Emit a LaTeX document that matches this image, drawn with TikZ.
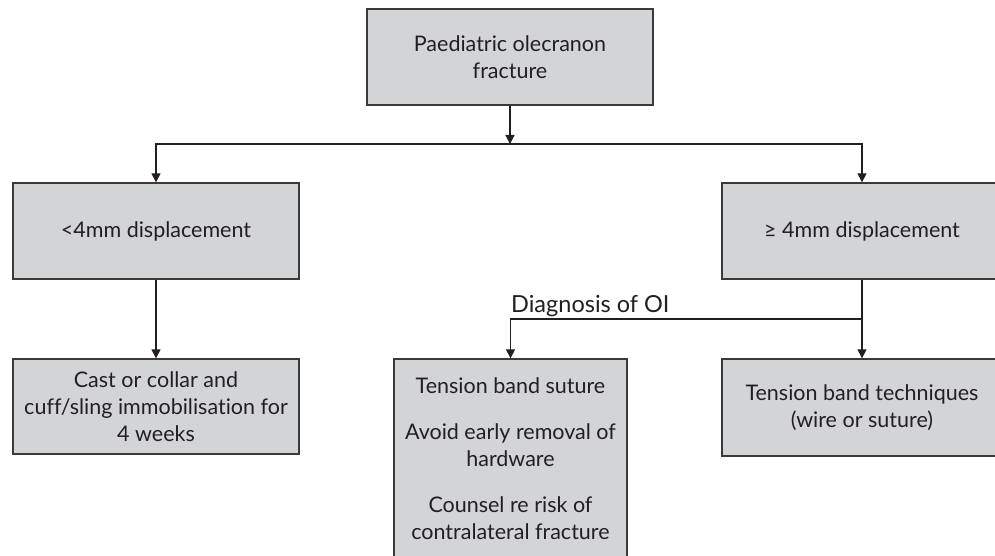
\documentclass[tikz,border=0pt]{standalone}
\usepackage{fontspec}
\setmainfont{Lato}[Ligatures={NoCommon,NoRare,NoDiscretionary}]
\usetikzlibrary{arrows.meta}
\definecolor{boxfill}{HTML}{D3D4D6}
\definecolor{boxline}{HTML}{3A3A3A}
\definecolor{inkc}{HTML}{231F20}
\begin{document}
\begin{tikzpicture}[x=1pt,y=-1pt,
  box/.style={draw=boxline,fill=boxfill,line width=1.3pt,text=inkc,align=center,inner sep=0pt,
    font=\fontsize{21.5}{27}\selectfont},
  arr/.style={draw=inkc,line width=1.2pt,-{Triangle[width=9pt,length=9pt]}},
  ln/.style={draw=inkc,line width=1.2pt}]
\useasboundingbox (0,0) rectangle (995,556);
\clip (0,0) rectangle (995,556);
\node[box,minimum width=286,minimum height=96] (top) at (510,57) {Paediatric olecranon\\fracture};
\node[box,minimum width=286,minimum height=96] (left) at (156,231) {<4mm displacement};
\node[box,minimum width=280,minimum height=96] (right) at (862,231) {≥ 4mm displacement};
\node[box,minimum width=286,minimum height=95] (bl) at (156,406.5) {Cast or collar and\\cuff/sling immobilisation for\\4 weeks};
\node[box,minimum width=280,minimum height=97] (br) at (862,407.5) {Tension band techniques\\(wire or suture)};
\node[box,minimum width=233,minimum height=199] (mid) at (510.5,458.5) {Tension band suture\\[19pt]Avoid early removal of\\hardware\\[19pt]Counsel re risk of\\contralateral fracture};
\coordinate (j1) at (510,144);
\coordinate (j2) at (862,319);
\draw[arr] (top.south) -- (j1);
\draw[arr] (j1) -| (left.north);
\draw[arr] (j1) -| (right.north);
\draw[arr] (left.south) -- (bl.north);
\draw[arr] (right.south) -- (br.north);
\draw[arr] (j2) -| (mid.north);
\node[anchor=base west,inner sep=0pt,text=inkc,font=\fontsize{23.5}{27}\selectfont] (lab) at (511,312) {Diagnosis of OI};
\end{tikzpicture}
\end{document}
